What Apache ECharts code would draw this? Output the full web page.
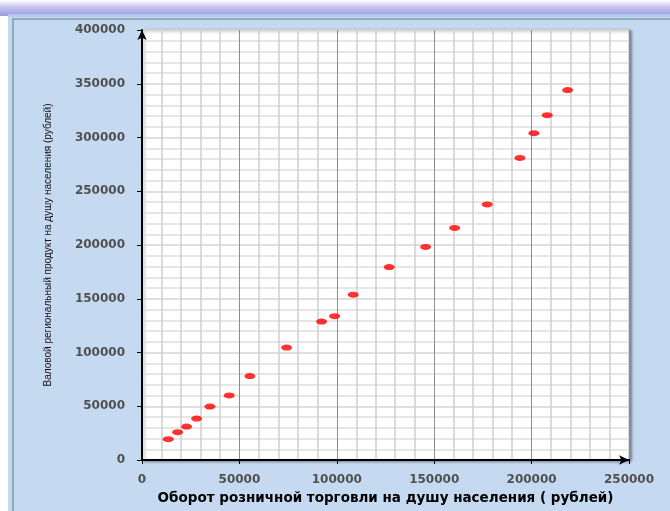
<!DOCTYPE html>
<html>
<head>
<meta charset="utf-8">
<script src="https://cdn.jsdelivr.net/npm/echarts@6/dist/echarts.min.js"></script>
<style>
html,body{margin:0;padding:0;background:#fff;}
#wrap{position:relative;width:670px;height:511px;overflow:hidden;background:#fff;}
#topbar{position:absolute;left:0;top:0;width:670px;height:16px;background:linear-gradient(#ffffff 0%,#c4c4f0 45%,#9c9ce0 100%);}
#panel{position:absolute;left:8px;top:14px;width:662px;height:497px;background:#c5d9f1;}
#panelTop{position:absolute;left:8px;top:14px;width:662px;height:3px;background:#b2cbf0;}
#hline{position:absolute;left:12px;top:18px;width:658px;height:2px;background:#97a7ba;}
#vline{position:absolute;left:12px;top:18px;width:2px;height:493px;background:#97a7ba;}
#chart{position:absolute;left:0;top:0;width:670px;height:511px;}
</style>
</head>
<body>
<div id="wrap">
<div id="topbar"></div>
<div id="panel"></div>
<div id="panelTop"></div>
<div id="hline"></div>
<div id="vline"></div>
<div id="chart"></div>
</div>
<script>
// Оборот розничной торговли на душу населения (рублей)
const retailTurnover = [13450, 18275, 22895, 28030, 34855, 44765, 55390, 74230, 92195, 98870,
  108420, 126900, 145585, 160475, 177210, 193995, 201180, 208010, 218480];
// Валовой региональный продукт на душу населения (рублей)
const grp = [19320, 25855, 31080, 38550, 49750, 60015, 78120, 104535, 128800, 133750,
  153725, 179485, 198150, 215885, 237725, 280940, 303990, 320790, 344130];
const xTitle = 'Оборот розничной торговли на душу населения ( рублей)';
const yTitle = 'Валовой региональный продукт на душу населения (рублей)';

const points = retailTurnover.map((x, i) => [x, grp[i]]);

const chart = echarts.init(document.getElementById('chart'), null, {renderer: 'canvas'});
const tickFont = {fontFamily: 'DejaVu Sans', fontSize: 12, fontWeight: 'bold', color: '#505050', formatter: v => String(v)};
chart.setOption({
  backgroundColor: 'transparent',
  animation: false,
  grid: {
    left: 142, right: 41, top: 30, bottom: 51,
    show: true, backgroundColor: '#ffffff', borderColor: '#c0c0c0', borderWidth: 1,
    shadowColor: 'rgba(0,0,0,0.45)', shadowBlur: 3, shadowOffsetX: 2, shadowOffsetY: 1
  },
  xAxis: {
    type: 'value', min: 0, max: 250000, interval: 50000,
    name: xTitle, nameLocation: 'middle', nameGap: 31,
    nameTextStyle: {fontFamily: 'DejaVu Sans', fontSize: 13.5, fontWeight: 'bold', color: '#000'},
    axisLine: {show: true, onZero: false, lineStyle: {color: '#000', width: 2}, symbol: ['none', 'arrow'], symbolSize: [7, 10]},
    axisTick: {show: true, length: 4, lineStyle: {color: '#000', width: 1}},
    axisLabel: Object.assign({margin: 14}, tickFont),
    splitLine: {show: true, lineStyle: {color: '#8c8c8c', width: 1}},
    minorTick: {show: false, splitNumber: 5},
    minorSplitLine: {show: true, lineStyle: {color: '#cfcfcf', width: 1.5}}
  },
  yAxis: {
    type: 'value', min: 0, max: 400000, interval: 50000,
    name: yTitle, nameLocation: 'middle', nameGap: 89, nameRotate: 90,
    nameTextStyle: {fontFamily: 'Liberation Sans', fontSize: 10, color: '#111'},
    axisLine: {show: true, onZero: false, lineStyle: {color: '#000', width: 2}, symbol: ['none', 'arrow'], symbolSize: [7, 10]},
    axisTick: {show: true, length: 5, lineStyle: {color: '#000', width: 1}},
    axisLabel: Object.assign({margin: 17}, tickFont),
    splitLine: {show: true, lineStyle: {color: '#d4d4d4', width: 1.5}},
    minorTick: {show: false, splitNumber: 5},
    minorSplitLine: {show: true, lineStyle: {color: '#dedede', width: 1.5}}
  },
  series: [{
    type: 'scatter',
    data: points,
    symbol: 'circle',
    symbolSize: [11, 6],
    itemStyle: {color: '#ff0000'}
  }]
});
</script>
</body>
</html>
